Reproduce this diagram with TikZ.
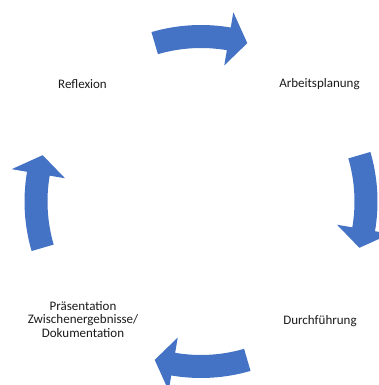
\documentclass[tikz,border=0pt]{standalone}
\usepackage{fontspec}
\setmainfont{Carlito}
\usetikzlibrary{calc}
\definecolor{arrowblue}{HTML}{4472C4}
\definecolor{txt}{HTML}{1A1A1A}
\begin{document}
\begin{tikzpicture}[x=1pt,y=1pt,
  lbl/.style={font=\fontsize{13}{13.5}\selectfont, text=txt, align=center, inner sep=0pt},
  cyclearrow/.style={fill=arrowblue, draw=none}]
\useasboundingbox (0,0) rectangle (379,385);
\coordinate (C) at (201,183.5);
\def\R{165}\def\hw{11.5}\def\hh{27}
\foreach \c in {90,0,-90,180}{
  \pgfmathsetmacro{\az}{\c+16.3}
  \pgfmathsetmacro{\ab}{\c-9.7}
  \pgfmathsetmacro{\at}{\c-16.3}
  \pgfmathsetmacro{\ro}{\R+\hw}
  \pgfmathsetmacro{\ri}{\R-\hw}
  \pgfmathsetmacro{\hoo}{\R+\hh}
  \pgfmathsetmacro{\hii}{\R-\hh}
  \fill[cyclearrow] ($(C)+(\az:\ro)$) arc[start angle=\az, end angle=\ab, radius=\ro]
    -- ($(C)+(\ab:\hoo)$) -- ($(C)+(\at:\R)$) -- ($(C)+(\ab:\hii)$) -- ($(C)+(\ab:\ri)$)
    arc[start angle=\ab, end angle=\az, radius=\ri] -- cycle;
}
\node[lbl] (refl) at (82.5,301) {Reflexion};
\node[lbl] (plan) at (319.5,301) {Arbeitsplanung};
\node[lbl] (durch) at (320,64.3) {Durchführung};
\node[lbl] (praes) at (83,65.5) {Präsentation\\Zwischenergebnisse/\\Dokumentation};
\end{tikzpicture}
\end{document}
